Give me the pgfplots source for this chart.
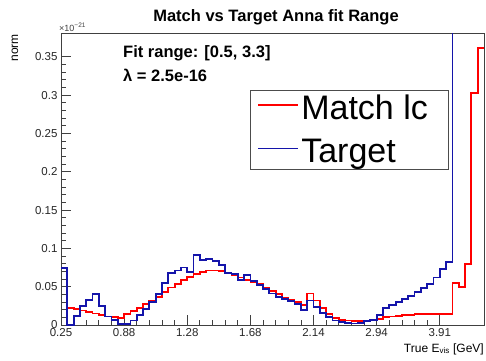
\documentclass[border=0pt]{standalone}
\usepackage{fontspec}
\setmainfont{Liberation Sans}
\usepackage{pgfplots}
\pgfplotsset{compat=1.18}
\definecolor{rred}{RGB}{255,0,0}
\definecolor{rblue}{RGB}{20,20,170}
\pgfplotstableread{
x y
0 0.074
1 0.000
2 0.012
3 0.025
4 0.033
5 0.040
6 0.025
7 0.011
8 0.007
9 0.001
10 0.001
11 0.006
12 0.013
13 0.021
14 0.030
15 0.040
16 0.055
17 0.068
18 0.071
19 0.075
20 0.069
21 0.091
22 0.085
23 0.086
24 0.083
25 0.078
26 0.068
27 0.067
28 0.059
29 0.065
30 0.057
31 0.052
32 0.047
33 0.041
34 0.037
35 0.034
36 0.031
37 0.027
38 0.020
39 0.032
40 0.023
41 0.016
42 0.010
43 0.006
44 0.004
45 0.003
46 0.002
47 0.003
48 0.005
49 0.007
50 0.013
51 0.022
52 0.026
53 0.030
54 0.034
55 0.038
56 0.043
57 0.048
58 0.054
59 0.062
60 0.073
61 0.082
62 0.6
63 0.6
64 0.6
65 0.6
66 0.6
67 0.6
}\target
\pgfplotstableread{
x y
0 0.075
1 0.022
2 0.021
3 0.019
4 0.017
5 0.015
6 0.013
7 0.011
8 0.010
9 0.0095
10 0.014
11 0.018
12 0.022
13 0.027
14 0.032
15 0.037
16 0.043
17 0.049
18 0.054
19 0.059
20 0.063
21 0.067
22 0.069
23 0.071
24 0.071
25 0.070
26 0.068
27 0.065
28 0.062
29 0.059
30 0.056
31 0.053
32 0.049
33 0.044
34 0.040
35 0.036
36 0.033
37 0.030
38 0.026
39 0.041
40 0.032
41 0.022
42 0.014
43 0.009
44 0.007
45 0.006
46 0.005
47 0.005
48 0.006
49 0.007
50 0.008
51 0.010
52 0.011
53 0.012
54 0.013
55 0.0135
56 0.014
57 0.0145
58 0.0145
59 0.0145
60 0.014
61 0.014
62 0.055
63 0.050
64 0.080
65 0.303
66 0.361
67 0.361
}\match
\begin{document}
\begin{tikzpicture}[x=1pt,y=1pt]
\path[use as bounding box] (0,0) rectangle (486,360);
\begin{axis}[
  at={(61pt,35pt)}, anchor=south west,
  scale only axis, width=423pt, height=292pt,
  xmin=0, xmax=67, ymin=0, ymax=0.381,
  axis line style={draw=black!75, line width=0.8pt},
  tick align=inside, xtick pos=left, ytick pos=left,
  xtick={0,10,20,30,40,50,60},
  xticklabels={0.25,0.88,1.28,1.68,2.14,2.94,3.91},
  minor x tick num=4,
  ytick={0,0.05,0.1,0.15,0.2,0.25,0.3,0.35},
  yticklabels={0,0.05,0.1,0.15,0.2,0.25,0.3,0.35},
  minor y tick num=4,
  major tick length=10pt, minor tick length=5pt,
  tick style={draw=black!75, line width=0.8pt},
  ticklabel style={font=\fontsize{11.5}{13}\selectfont, text=black!85},
  scaled y ticks=false,
  legend style={at={(0.447,0.805)}, anchor=north west, draw=black!70, line width=0.8pt,
    font=\fontsize{34}{38}\selectfont, inner xsep=7pt, inner ysep=3pt, row sep=14pt},
  legend cell align=left,
  legend image code/.code={\path (0pt,0.35em) -- (40pt,0.35em);\draw[#1, line width=1.4pt] (0pt,0.35em) -- (34pt,0.35em);},
]
\addplot[const plot, draw=rred, line width=1.8pt] table[x=x,y=y] {\match};
\addlegendentry{\makebox[138pt][l]{Match lc}}
\addplot[const plot, draw=rblue, line width=1.8pt] table[x=x,y=y] {\target};
\addlegendentry{\makebox[138pt][l]{Target}}
\end{axis}
\node[anchor=base, font=\bfseries\fontsize{16.5}{18}\selectfont] at (276,338.5) {Match vs Target Anna fit Range};
\node[anchor=base west, inner sep=0, font=\fontsize{9}{10}\selectfont, text=black!75] at (59,329) {×10\raisebox{3.5pt}{\fontsize{6.5}{7}\selectfont −21}};
\node[rotate=90, anchor=east, inner sep=0, font=\fontsize{12}{14}\selectfont] at (15,326) {norm};
\node[anchor=base east, inner sep=0, font=\fontsize{12}{14}\selectfont] at (484,8) {True E\textsubscript{vis} [GeV]};
\node[anchor=base west, inner sep=0, font=\bfseries\fontsize{16.5}{18}\selectfont] at (123,303) {Fit range: [0.5, 3.3]};
\node[anchor=base west, inner sep=0, font=\bfseries\fontsize{16.5}{18}\selectfont] at (123,278.5) {λ = 2.5e-16};
\end{tikzpicture}
\end{document}
